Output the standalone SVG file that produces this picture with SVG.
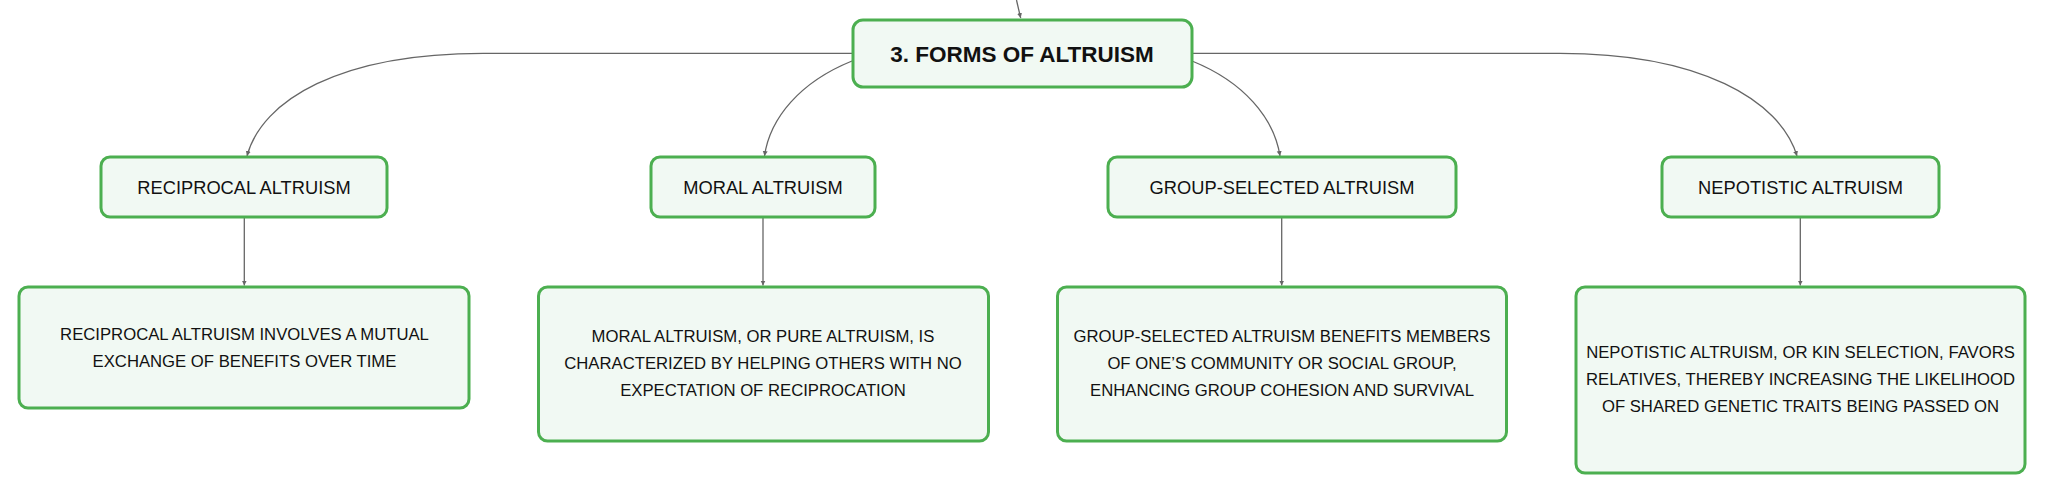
<svg xmlns="http://www.w3.org/2000/svg" width="2046" height="494" viewBox="0 0 2046 494">
<defs>
<style>
.box{fill:#f1f9f3;stroke:#4caf50;stroke-width:3}
.edge{fill:none;stroke:#666;stroke-width:1.3}
.root{font-family:"Liberation Sans",Arial,sans-serif;font-weight:bold;font-size:22.5px;fill:#111;text-anchor:middle}
.lbl{font-family:"Liberation Sans",Arial,sans-serif;font-size:18.3px;fill:#111;text-anchor:middle}
.det{font-family:"Liberation Sans",Arial,sans-serif;font-size:16.7px;fill:#111;text-anchor:middle}
</style>
<marker id="arr" markerWidth="6" markerHeight="6" refX="5" refY="3" orient="auto" markerUnits="userSpaceOnUse">
<path d="M0,0.5 L5,3 L0,5.5 z" fill="#666"/>
</marker>
</defs>
<rect width="2046" height="494" fill="#fff"/>
<g id="connectors">
<path class="edge" d="M1016.5,0 Q1018.5,9 1020.7,18" marker-end="url(#arr)"/>
<path class="edge" d="M853,53.3 H483 C340,53.3 262,100 247,156" marker-end="url(#arr)"/>
<path class="edge" d="M852,61 C800,82 770,118 764.5,156" marker-end="url(#arr)"/>
<path class="edge" d="M1192,61 C1244,82 1274,118 1280,156" marker-end="url(#arr)"/>
<path class="edge" d="M1192,53.3 H1560 C1700,53.3 1780,100 1797,156" marker-end="url(#arr)"/>
<path class="edge" d="M244.3,217 V285.5" marker-end="url(#arr)"/>
<path class="edge" d="M763,217 V285.5" marker-end="url(#arr)"/>
<path class="edge" d="M1281.7,217 V285.5" marker-end="url(#arr)"/>
<path class="edge" d="M1800.3,217 V285.5" marker-end="url(#arr)"/>
</g>
<g id="root">
<rect class="box" x="853" y="20" width="339" height="67" rx="10"/>
<text class="root" x="1022" y="62">3. FORMS OF ALTRUISM</text>
</g>
<g id="reciprocal">
<rect class="box" x="101" y="157" width="286" height="60" rx="9"/>
<text class="lbl" x="244" y="194">RECIPROCAL ALTRUISM</text>
</g>
<g id="moral">
<rect class="box" x="651" y="157" width="224" height="60" rx="9"/>
<text class="lbl" x="763" y="194">MORAL ALTRUISM</text>
</g>
<g id="group-selected">
<rect class="box" x="1108" y="157" width="348" height="60" rx="9"/>
<text class="lbl" x="1282" y="194">GROUP-SELECTED ALTRUISM</text>
</g>
<g id="nepotistic">
<rect class="box" x="1662" y="157" width="277" height="60" rx="9"/>
<text class="lbl" x="1800.5" y="194">NEPOTISTIC ALTRUISM</text>
</g>
<g id="reciprocal-detail">
<rect class="box" x="19" y="287" width="450" height="121" rx="9"/>
<text class="det" x="244.5" y="340">RECIPROCAL ALTRUISM INVOLVES A MUTUAL</text>
<text class="det" x="244.5" y="366.7">EXCHANGE OF BENEFITS OVER TIME</text>
</g>
<g id="moral-detail">
<rect class="box" x="538.5" y="287" width="450" height="154" rx="9"/>
<text class="det" x="763" y="341.7">MORAL ALTRUISM, OR PURE ALTRUISM, IS</text>
<text class="det" x="763" y="368.7">CHARACTERIZED BY HELPING OTHERS WITH NO</text>
<text class="det" x="763" y="395.7">EXPECTATION OF RECIPROCATION</text>
</g>
<g id="group-selected-detail">
<rect class="box" x="1057.5" y="287" width="449" height="154" rx="9"/>
<text class="det" x="1282" y="341.7">GROUP-SELECTED ALTRUISM BENEFITS MEMBERS</text>
<text class="det" x="1282" y="368.7">OF ONE’S COMMUNITY OR SOCIAL GROUP,</text>
<text class="det" x="1282" y="395.7">ENHANCING GROUP COHESION AND SURVIVAL</text>
</g>
<g id="nepotistic-detail">
<rect class="box" x="1576" y="287" width="449" height="186" rx="9"/>
<text class="det" x="1800.5" y="358.3">NEPOTISTIC ALTRUISM, OR KIN SELECTION, FAVORS</text>
<text class="det" x="1800.5" y="385.3">RELATIVES, THEREBY INCREASING THE LIKELIHOOD</text>
<text class="det" x="1800.5" y="412.3">OF SHARED GENETIC TRAITS BEING PASSED ON</text>
</g>
</svg>
